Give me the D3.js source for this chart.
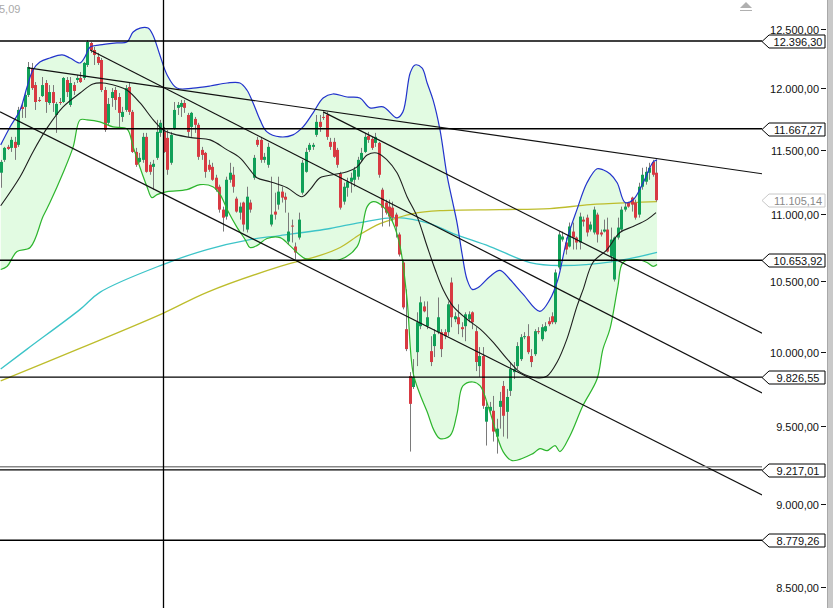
<!DOCTYPE html>
<html><head><meta charset="utf-8">
<script src="https://cdn.jsdelivr.net/npm/d3@7"></script>
<style>html,body{margin:0;padding:0;background:#fff;overflow:hidden}</style>
</head><body><svg id="c" width="833" height="608"></svg>
<script>
// ---- data ----
const opens=[11318,11419,11522,11514,11562,11538,11845,11845,11943,12168,12025,11902,11934,12042,11877,11967,11779,11885,11885,12067,11861,12025,12067,12084,12084,12193,12380,12320,12261,12235,11984,11715,11918,11984,11926,11763,11820,12009,11804,11482,11403,11419,11602,11380,11364,11435,11634,11642,11594,11396,11666,11837,11845,11877,11779,11682,11747,11699,11498,11474,11380,11364,11279,11209,11033,10980,11263,11302,11117,11010,11087,10882,11087,11279,11578,11578,11419,11380,10920,11018,11071,11171,11132,10792,10912,10755,10822,11163,11325,11498,11522,11618,11723,11763,11779,11562,11562,11498,11310,11094,11201,11248,11263,11287,11419,11482,11610,11586,11554,11554,11186,11087,11056,11048,10995,10845,10637,10158,9834,9760,9998,10179,10319,10179,10005,10040,10137,10137,10137,10137,10491,10228,10242,10172,10179,10228,10277,10144,9902,9971,9529,9601,9601,9431,9627,9767,9594,9734,9861,9902,9950,10102,10109,9971,9984,10144,10088,10144,10214,10249,10207,10601,10807,10785,10755,10867,10822,10785,10957,10972,10882,10860,10995,10860,10867,10882,10681,10513,10822,10882,11033,11087,11125,11087,10995,11209,11248,11318,11403,11318];
const highs=[11419,11522,11538,11602,11602,11845,11877,11959,12218,12210,12050,11926,12092,12067,12025,12025,11885,11918,12092,12092,12092,12050,12109,12134,12218,12405,12388,12346,12295,12252,12009,11918,12000,12009,11959,11845,12025,12042,11820,11514,11474,11634,11634,11403,11419,11739,11739,11682,11658,11642,11885,11885,11902,11902,11796,11804,11763,11715,11522,11482,11419,11396,11302,11225,11056,11287,11396,11364,11132,11087,11094,11209,11109,11458,11602,11602,11474,11554,11287,11163,11287,11209,11163,11010,10957,10785,11010,11419,11514,11554,11554,11779,11779,11804,11804,11594,11594,11514,11325,11240,11279,11318,11364,11443,11514,11634,11642,11602,11634,11562,11201,11109,11109,11094,11010,10860,10659,10441,9861,9950,10277,10390,10355,10355,10109,10158,10383,10158,10158,10355,10527,10277,10334,10207,10277,10284,10284,10172,10033,10033,9660,9660,9700,9548,9727,9801,9747,9930,9930,10067,10123,10137,10193,10019,10158,10172,10193,10207,10242,10277,10586,10867,10867,10822,10935,10935,10830,11010,10980,10995,10942,11056,11010,10882,10957,10972,10897,10830,10972,11056,11087,11094,11132,11109,11240,11357,11364,11396,11419,11419];
const lows=[11201,11403,11498,11482,11419,11522,11755,11755,11926,11984,11820,11885,11926,11796,11861,11804,11634,11861,11877,11926,11845,11943,12042,12042,12067,12176,12295,12193,12193,11967,11642,11699,11845,11820,11674,11723,11804,11779,11474,11364,11396,11396,11318,11302,11186,11419,11602,11474,11302,11380,11658,11779,11763,11796,11602,11602,11634,11419,11419,11279,11325,11255,11171,11010,10867,10957,11240,11163,11010,10957,10867,10860,11010,11263,11522,11396,11396,11357,10905,10957,11033,11087,11010,10770,10785,10659,10807,11148,11318,11482,11498,11602,11642,11739,11578,11498,11435,11357,11033,11071,11132,11163,11209,11263,11403,11474,11554,11498,11522,11279,10905,10995,10905,10942,10822,10681,10298,10005,9334,9747,9902,10158,10277,10158,9902,9964,10123,9964,10088,10109,10172,10207,10123,10102,10074,10207,10158,9868,9828,9614,9373,9581,9399,9321,9483,9431,9418,9700,9814,9882,9937,10088,9984,9895,9971,10123,10074,10137,10179,10193,10193,10586,10792,10696,10748,10733,10733,10733,10905,10830,10867,10845,10785,10830,10860,10711,10644,10498,10807,10867,11018,11048,11018,10957,10972,11186,11225,11263,11287,11094];
const closes=[11403,11514,11506,11578,11514,11820,11828,11943,12176,12000,11885,11893,12025,11885,11967,11877,11869,11877,12084,11967,12042,11976,12084,12050,12210,12388,12320,12278,12210,11984,11658,11869,11967,11902,11796,11804,12000,11804,11482,11380,11435,11602,11325,11325,11388,11642,11715,11482,11341,11618,11820,11861,11877,11837,11642,11796,11699,11443,11458,11325,11341,11263,11186,11033,10972,11263,11318,11209,11018,11056,10920,11132,11033,11435,11538,11419,11443,11522,10995,10995,11171,11125,11109,10867,10905,10711,10957,11396,11482,11538,11538,11723,11682,11755,11602,11522,11443,11380,11048,11209,11248,11279,11341,11419,11474,11602,11578,11514,11602,11302,11048,11010,10980,10972,10905,10696,10312,10019,9647,9828,10207,10348,10284,10242,9930,10123,10242,10019,10109,10334,10242,10249,10193,10158,10263,10263,10207,9930,9971,9634,9627,9627,9464,9483,9667,9568,9693,9882,9882,10040,10102,10109,9998,9930,10144,10137,10172,10179,10193,10207,10564,10845,10830,10733,10905,10822,10785,10980,10942,10860,10920,11033,10845,10845,10882,10718,10807,10822,10897,11033,11056,11056,11071,10972,11209,11302,11325,11357,11302,11105.14];

// indicator lines: [candle index, value]
const bandUpper=[[0,11538],[2.7,11682],[5.6,11820],[7.6,12009],[9.3,12151],[11.3,12218],[14.2,12252],[17.7,12278],[20,12252],[22.9,12210],[24.3,12261],[25.8,12346],[28.6,12363],[33.5,12380],[36.4,12388],[38.2,12474],[40.2,12508],[42.5,12508],[43.9,12448],[45.9,12278],[48,12109],[50.8,12000],[55.5,12000],[60.4,12017],[65.3,12042],[69,12042],[71,11984],[72.8,11877],[74.8,11739],[76.8,11642],[80.6,11602],[84.3,11618],[87.2,11682],[90.1,11796],[93,11918],[95.8,11951],[99.9,11926],[103.6,11918],[106.5,11837],[110.3,11845],[114.3,11755],[116,11804],[118.1,12126],[119.5,12193],[121.5,12168],[123,12042],[124.7,11902],[126.7,11658],[128.7,11302],[130.2,11109],[131.6,10935],[133.1,10696],[134.5,10513],[136,10441],[137.7,10455],[141.1,10535],[144,10579],[146.9,10513],[150.7,10405],[155.5,10284],[158.4,10369],[160.7,10513],[163.3,10807],[166.2,11033],[169.1,11240],[172,11349],[173.7,11341],[175.7,11310],[177.8,11240],[180.1,11087],[182.4,11109],[185.3,11240],[188.2,11403],[189.3,11419]];
const bandLower=[[0,10586],[1.8,10608],[4.7,10718],[8.5,10748],[12.2,10980],[14.2,11087],[18,11318],[20.9,11522],[22.9,11739],[24.9,11739],[28.6,11723],[32.4,11682],[36.4,11666],[38.2,11522],[40.2,11357],[42.2,11209],[43.6,11125],[45.1,11148],[48,11171],[53.7,11186],[57.5,11225],[61.2,11209],[63.3,11148],[65.6,11018],[68.2,10897],[70.5,10807],[71.9,10748],[73.9,10762],[76.8,10815],[80.6,10822],[83.4,10762],[87.8,10666],[92.1,10659],[97.9,10659],[102.8,10755],[104.2,10882],[105.7,11056],[107.4,11094],[110.3,11056],[113.1,10935],[115.2,10755],[117.2,10369],[118.9,9861],[120.9,9713],[123,9594],[125,9470],[126.7,9418],[129.6,9437],[131.6,9581],[133.3,9767],[136.2,9794],[138.3,9767],[141.1,9594],[144.9,9334],[147.5,9276],[153.5,9321],[155.5,9353],[157.6,9340],[159.9,9373],[161.3,9334],[164.2,9437],[167.9,9634],[172,9814],[173.7,10019],[175.7,10158],[178,10462],[179.5,10637],[183.5,10659],[186.4,10637],[188.2,10608],[189.3,10622]];
const bandMiddle=[[0,11063],[5.6,11287],[9.3,11482],[13.4,11674],[18,11845],[22.9,11959],[26.6,12034],[29.5,12042],[33.5,12017],[36.4,11984],[40.2,11877],[44,11739],[46.8,11658],[49.7,11626],[55.5,11594],[60.4,11578],[65.3,11498],[69,11435],[71.9,11341],[73.9,11279],[77.7,11248],[82.6,11201],[86.9,11132],[89.2,11186],[92.1,11279],[95.8,11302],[99.9,11325],[102.8,11364],[105.7,11458],[108.5,11474],[111.4,11419],[114.3,11318],[117.2,11132],[120.1,10980],[123,10755],[125.3,10586],[127.6,10441],[130.5,10319],[134.5,10228],[138.3,10158],[142,10067],[146.1,9950],[149.8,9861],[155,9821],[157.6,9834],[160.5,9930],[163.3,10088],[166.2,10319],[168,10441],[170.8,10637],[174.9,10733],[178.6,10860],[182.4,10905],[186.4,10957],[189,11010]];
const maCyan=[[0,9882],[7.6,10019],[22.9,10298],[28.6,10420],[46.8,10622],[59.5,10733],[71.9,10807],[80.6,10837],[95,10890],[103.6,10935],[114.3,10972],[123.8,10927],[130.5,10852],[141.1,10755],[152.7,10637],[161.3,10615],[176.6,10644],[189.3,10711]];
const maOlive=[[0,9801],[22.3,10019],[46.8,10270],[59.5,10420],[80.6,10608],[92.1,10689],[97.9,10748],[103.6,10845],[109.4,10927],[113.7,10965],[118.9,11003],[126.7,11025],[144,11033],[158.4,11041],[170,11071],[182.4,11087],[189.3,11094]];
const trendLines=[[[7.9,12168],[219.6,11310]],[[93,11804],[219.6,10130]],[[25.8,12320],[219.6,9720]],[[-0.2,11804],[219.6,9059]]];
const levels=[12396.30,11667.27,10653.92,9826.55,9217.01,8779.26];
const lastPrice=11105.14;
const yTicks=[8500,9000,9500,10000,10500,11000,11500,12000,12500];
const crosshairIndex=46.8;

// ---- drawing ----
const svg=d3.select('#c');
const plotRight=762;
const x=d3.scaleLinear().domain([0,189]).range([0.7,656]);
const y=d3.scaleLog().domain([8500,12500]).range([587,29]);
const loc=d3.formatLocale({decimal:",",thousands:".",grouping:[3],currency:["",""]});
const fmt=loc.format(",.2f");
const FONT='"Liberation Sans", Arial, sans-serif';

svg.append('rect').attr('width',833).attr('height',608).attr('fill','#fff');
svg.append('defs').append('clipPath').attr('id','pc').append('rect').attr('x',0).attr('y',0).attr('width',plotRight).attr('height',608);
const g=svg.append('g').attr('clip-path','url(#pc)');

const line=d3.line().x(d=>x(d[0])).y(d=>y(d[1])).curve(d3.curveCatmullRom.alpha(0.5));
// band fill
const up=line(bandUpper), lo=line(bandLower.slice().reverse());
g.append('path').attr('d',up+'L'+lo.slice(1)+'Z').attr('fill','#e2fbe2').attr('stroke','none');

// long moving averages
g.append('path').attr('d',line(maCyan)).attr('fill','none').attr('stroke','#3cc4c8').attr('stroke-width',1.3);
g.append('path').attr('d',line(maOlive)).attr('fill','none').attr('stroke','#bdbd2c').attr('stroke-width',1.3);

// candles
const idx=d3.range(opens.length);
const cw=2.8;
g.append('g').selectAll('line').data(idx).join('line')
  .attr('x1',i=>Math.round(x(i))+0.5).attr('x2',i=>Math.round(x(i))+0.5)
  .attr('y1',i=>y(highs[i])).attr('y2',i=>y(lows[i]))
  .attr('stroke','#7a7a7a').attr('stroke-width',1);
g.append('g').selectAll('rect').data(idx).join('rect')
  .attr('x',i=>Math.round(x(i))-1).attr('width',3)
  .attr('y',i=>y(Math.max(opens[i],closes[i])))
  .attr('height',i=>Math.max(1,y(Math.min(opens[i],closes[i]))-y(Math.max(opens[i],closes[i]))))
  .attr('fill',i=>closes[i]>=opens[i]?'#10a058':'#d83a42');

// bands
g.append('path').attr('d',line(bandUpper)).attr('fill','none').attr('stroke','#2233cc').attr('stroke-width',1.2);
g.append('path').attr('d',line(bandLower)).attr('fill','none').attr('stroke','#2db52d').attr('stroke-width',1.2);
g.append('path').attr('d',line(bandMiddle)).attr('fill','none').attr('stroke','#1e1e1e').attr('stroke-width',1.1);

// trend lines
g.append('g').selectAll('path').data(trendLines).join('path')
  .attr('d',d=>d3.line().x(p=>x(p[0])).y(p=>y(p[1]))(d))
  .attr('stroke','#111').attr('stroke-width',1.2).attr('fill','none');

// horizontal levels
levels.forEach(v=>{
  const yy=y(v);
  if(v===9217.01){
    g.append('line').attr('x1',0).attr('x2',plotRight).attr('y1',yy-3).attr('y2',yy-3).attr('stroke','#888').attr('stroke-width',1.5);
  }
  g.append('line').attr('x1',0).attr('x2',plotRight).attr('y1',yy).attr('y2',yy).attr('stroke','#000').attr('stroke-width',1.4);
});

// crosshair
g.append('line').attr('x1',Math.round(x(crosshairIndex))+0.5).attr('x2',Math.round(x(crosshairIndex))+0.5).attr('y1',0).attr('y2',608).attr('stroke','#000').attr('stroke-width',1.3);

// right axis
const ax=svg.append('g');
yTicks.forEach(v=>{
  const yy=Math.round(y(v))+0.5;
  ax.append('text').attr('x',819).attr('y',yy+4).attr('text-anchor','end')
    .attr('font-family',FONT).attr('font-size',11).attr('fill','#111').text(fmt(v));
  ax.append('line').attr('x1',821).attr('x2',826).attr('y1',yy).attr('y2',yy).attr('stroke','#111');
});
function tag(v,col,txt){
  const yy=Math.round(y(v))+0.5;
  const p=`M${plotRight},${yy}L${plotRight+7},${yy-6.5}L825,${yy-6.5}L825,${yy+6.5}L${plotRight+7},${yy+6.5}Z`;
  ax.append('path').attr('d',p).attr('fill','#fff').attr('stroke',col).attr('stroke-width',1);
  ax.append('text').attr('x',798).attr('y',yy+4).attr('text-anchor','middle')
    .attr('font-family',FONT).attr('font-size',11).attr('fill',txt).text(fmt(v));
}
levels.forEach(v=>tag(v,'#000','#111'));
tag(lastPrice,'#c8c8c8','#888');

// right scrollbar strip
svg.append('rect').attr('x',827).attr('y',0).attr('width',6).attr('height',608).attr('fill','#c9c9c9');
svg.append('line').attr('x1',827.5).attr('x2',827.5).attr('y1',0).attr('y2',608).attr('stroke','#a8a8a8');

// top-left partial value and top-right icon
svg.append('text').attr('x',-1).attr('y',13).attr('font-family',FONT).attr('font-size',11).attr('fill','#aaa').text('5,09');
svg.append('path').attr('d','M740,8L746,2L752,8Z').attr('fill','#b0b0b0');
svg.append('line').attr('x1',740).attr('x2',752).attr('y1',10.5).attr('y2',10.5).attr('stroke','#b0b0b0');
</script></body></html>
